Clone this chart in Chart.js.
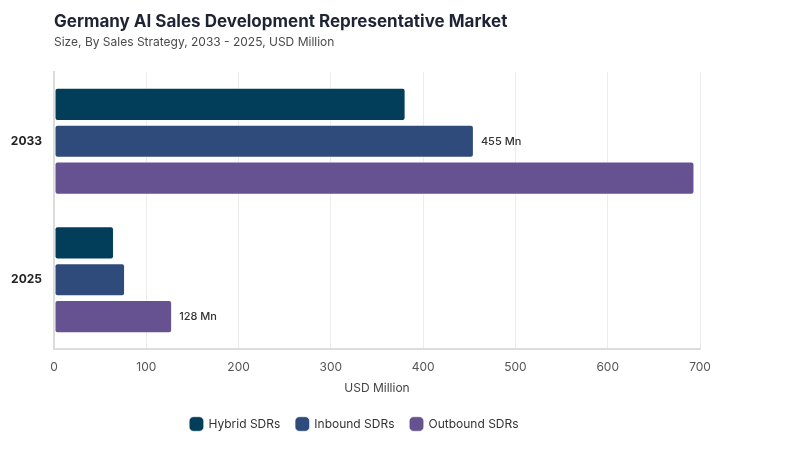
<!DOCTYPE html>
<html>
<head>
<meta charset="utf-8">
<script src="https://cdn.jsdelivr.net/npm/chart.js@4.4.0/dist/chart.umd.min.js"></script>
<style>
  body { margin: 0; background: #fff; font-family: Inter, "Noto Sans", sans-serif; }
  #wrap { position: relative; width: 800px; height: 450px; }
  #title { position: absolute; left: 54px; top: 11px; font-size: 17px; font-weight: 700; color: #1e2433; }
  #sub { position: absolute; left: 54px; top: 34px; font-size: 12px; color: #4a4a4a; }
</style>
</head>
<body>
<div id="wrap">
  <div id="title">Germany AI Sales Development Representative Market</div>
  <div id="sub">Size, By Sales Strategy, 2033 - 2025, USD Million</div>
  <canvas id="myChart" width="800" height="450"></canvas>
</div>
<script>
const years = ["2033", "2025"];
const hybrid = [381, 65];
const inbound = [455, 77];
const outbound = [694, 128];
const seriesNames = ["Hybrid SDRs", "Inbound SDRs", "Outbound SDRs"];
const colors = ["#023e5a", "#2f4b7c", "#665191"];
const xTicks = [0, 100, 200, 300, 400, 500, 600, 700];

// which bars get a value label: [datasetIndex, dataIndex]
const labelled = [[1, 0], [2, 1]];

const barLabels = {
  id: "barLabels",
  afterDatasetsDraw(chart) {
    const ctx = chart.ctx;
    ctx.save();
    ctx.font = "500 11px Inter";
    ctx.fillStyle = "#333";
    ctx.textBaseline = "middle";
    labelled.forEach(([d, i]) => {
      const bar = chart.getDatasetMeta(d).data[i];
      const v = chart.data.datasets[d].data[i];
      ctx.fillText(v + " Mn", bar.x + 7, bar.y);
    });
    ctx.restore();
  }
};

const allSeries = [hybrid, inbound, outbound];
const data = {
  labels: years,
  datasets: allSeries.map((s, k) => ({
    label: seriesNames[k],
    data: s,
    backgroundColor: colors[k],
    borderColor: "rgba(255,255,255,0.6)",
    borderWidth: 1,
    borderRadius: 3,
    borderSkipped: false,
    categoryPercentage: 0.8,
    barPercentage: 0.9
  }))
};

const config = {
  type: "bar",
  data: data,
  options: {
    indexAxis: "y",
    responsive: false,
    animation: false,
    layout: { padding: { top: 72, right: 100, bottom: 10, left: 9 } },
    plugins: {
      legend: {
        position: "bottom",
        labels: {
          usePointStyle: true,
          pointStyle: "rectRounded",
          boxWidth: 14,
          boxHeight: 14,
          padding: 16,
          color: "#333",
          font: { family: "Inter", size: 12 }
        }
      },
      tooltip: { enabled: false }
    },
    scales: {
      x: {
        min: 0,
        max: 700,
        afterBuildTicks(scale) { scale.ticks = xTicks.map(v => ({ value: v })); },
        grid: { color: "#ececec", drawTicks: false },
        border: { color: "#dcdcdc", width: 2 },
        ticks: { color: "#555", padding: 11, font: { family: "Inter", size: 12 } },
        title: { display: true, text: "USD Million", color: "#444", font: { family: "Inter", size: 12 }, padding: { top: 0, bottom: 6 } },
        afterFit(scale) { scale.height = 53; }
      },
      y: {
        grid: { display: false, drawTicks: false },
        border: { color: "#dcdcdc", width: 2 },
        ticks: { color: "#222", padding: 12, font: { family: "Inter", size: 12, weight: "bold" } },
        afterFit(scale) { scale.width = 45; }
      }
    }
  },
  plugins: [barLabels]
};

const myChart = new Chart(document.getElementById("myChart"), config);
</script>
</body>
</html>
